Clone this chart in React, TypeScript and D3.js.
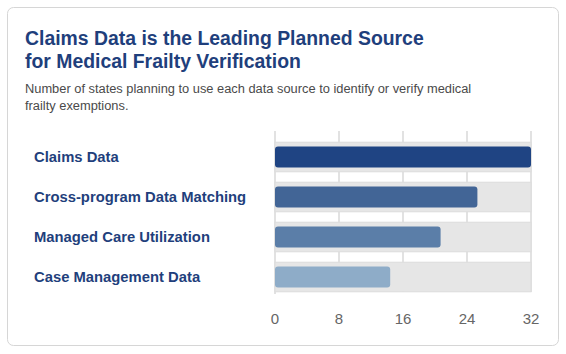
import React from "react";
import * as d3 from "d3";

// data sources and number of states planning to use each
const sources = [
  "Claims Data",
  "Cross-program Data Matching",
  "Managed Care Utilization",
  "Case Management Data",
];
const stateCounts = [32, 25.3, 20.7, 14.4];
const barColors = ["#1f4483", "#426596", "#5b7ea8", "#8eacc8"];
const ticks = [0, 8, 16, 24, 32];

const titleLines = [
  "Claims Data is the Leading Planned Source",
  "for Medical Frailty Verification",
];
const subtitleLines = [
  "Number of states planning to use each data source to identify or verify medical",
  "frailty exemptions.",
];

const W = 566;
const H = 354;
const font = "'Liberation Sans', Arial, Helvetica, sans-serif";

export default function App() {
  const x = d3.scaleLinear().domain([0, 32]).range([275, 531]);
  const y = d3.scaleBand().domain(sources).range([137, 297]).paddingInner(0.26).paddingOuter(0.13);
  const barH = 21;

  return (
    <svg
      width={W}
      height={H}
      style={{ position: "absolute", left: 0, top: 0, fontFamily: font }}
    >
      <rect x={7.5} y={7.5} width={551} height={338} rx={6} fill="#fff" stroke="#d6d6d6" />

      {titleLines.map((t, i) => (
        <text key={t} x={25} y={45 + i * 23} fontSize={19.4} fontWeight="bold" fill="#1f3f7c">
          {t}
        </text>
      ))}
      {subtitleLines.map((t, i) => (
        <text key={t} x={25} y={93 + i * 17} fontSize={12.85} fill="#4a4a4a">
          {t}
        </text>
      ))}

      {/* vertical gridlines */}
      {ticks.map((t) => (
        <line
          key={t}
          x1={x(t)}
          x2={x(t)}
          y1={131}
          y2={t === 0 ? 294 : 292}
          stroke="#e2e2e2"
          strokeWidth={2}
        />
      ))}

      {/* background tracks */}
      {sources.map((s) => (
        <rect
          key={s}
          x={x(0)}
          y={y(s)}
          width={x(32) - x(0)}
          height={y.bandwidth()}
          fill="#e6e6e6"
          stroke="#dcdcdc"
          strokeWidth={1}
        />
      ))}

      {sources.map((s, i) => (
        <rect
          key={s}
          x={x(0)}
          y={(y(s) as number) + (y.bandwidth() - barH) / 2}
          width={x(stateCounts[i]) - x(0)}
          height={barH}
          rx={3}
          fill={barColors[i]}
        />
      ))}

      {sources.map((s) => (
        <text
          key={s}
          x={34}
          y={(y(s) as number) + y.bandwidth() / 2}
          dy="0.35em"
          fontSize={14.8}
          fontWeight="bold"
          fill="#1f3f7c"
        >
          {s}
        </text>
      ))}

      {ticks.map((t) => (
        <text key={t} x={x(t)} y={324} textAnchor="middle" fontSize={15} fill="#666">
          {t}
        </text>
      ))}
    </svg>
  );
}
